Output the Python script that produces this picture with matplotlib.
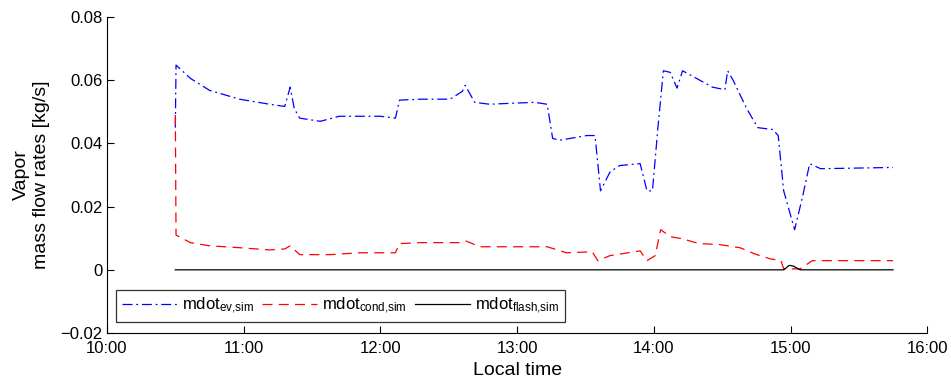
import matplotlib.pyplot as plt
from matplotlib.ticker import FuncFormatter

plt.rcParams["font.family"] = ["Liberation Sans", "DejaVu Sans"]
plt.rcParams["mathtext.fontset"] = "custom"
plt.rcParams["mathtext.rm"] = "Liberation Sans"
plt.rcParams["mathtext.it"] = "Liberation Sans:italic"

# time in decimal hours, values in kg/s
t_ev = [10.50, 10.505, 10.61, 10.75, 10.97, 11.19, 11.30, 11.34, 11.37, 11.41, 11.56,
        11.70, 11.85, 12.00, 12.11, 12.14, 12.29, 12.51, 12.60, 12.62, 12.69, 12.80,
        12.95, 13.13, 13.22, 13.26, 13.31, 13.51, 13.57, 13.61, 13.68, 13.75, 13.90,
        13.95, 13.99, 14.03, 14.07, 14.12, 14.17, 14.21, 14.43, 14.52, 14.54, 14.58,
        14.68, 14.76, 14.87, 14.91, 14.95, 15.03, 15.09, 15.14, 15.22, 15.75]
m_ev = [0.045, 0.0648, 0.0606, 0.0568, 0.0540, 0.0524, 0.0517, 0.0578, 0.0510, 0.0480,
        0.0470, 0.0486, 0.0486, 0.0486, 0.0480, 0.0537, 0.0540, 0.0540, 0.0565, 0.0584,
        0.0530, 0.0524, 0.0527, 0.0530, 0.0524, 0.0416, 0.0410, 0.0425, 0.0425, 0.0250,
        0.0310, 0.0330, 0.0336, 0.0250, 0.0250, 0.0450, 0.0630, 0.0625, 0.0575, 0.0630,
        0.0578, 0.0570, 0.0630, 0.0600, 0.0510, 0.0450, 0.0444, 0.0425, 0.0250, 0.0127,
        0.0235, 0.0336, 0.0320, 0.0324]

t_cond = [10.50, 10.505, 10.61, 10.75, 10.97, 11.19, 11.30, 11.34, 11.41, 11.63,
          11.85, 12.11, 12.14, 12.29, 12.58, 12.62, 12.73, 12.95, 13.22, 13.36, 13.55,
          13.59, 13.68, 13.90, 13.95, 14.01, 14.05, 14.12, 14.21, 14.33, 14.48, 14.63,
          14.74, 14.85, 14.93, 14.95, 15.07, 15.16, 15.75]
m_cond = [0.0490, 0.0110, 0.0086, 0.0076, 0.0070, 0.0063, 0.0066, 0.0076, 0.0048, 0.0048,
          0.0054, 0.0054, 0.0083, 0.0086, 0.0086, 0.0092, 0.0073, 0.0073, 0.0073, 0.0054,
          0.0057, 0.0029, 0.0045, 0.0060, 0.0029, 0.0045, 0.0127, 0.0105, 0.0098, 0.0083,
          0.0080, 0.0070, 0.0050, 0.0035, 0.0029, 0.0003, 0.0003, 0.0029, 0.0029]

t_flash = [10.50, 14.95, 14.99, 15.02, 15.07, 15.75]
m_flash = [0.0, 0.0, 0.0014, 0.0012, 0.0, 0.0]

fig = plt.figure(figsize=(9.51, 3.83), dpi=100)
ax = fig.add_axes([0.1125, 0.1305, 0.8625, 0.825])

ax.plot(t_ev, m_ev, color="blue", lw=0.9, linestyle=(0, (8, 3, 1.5, 3)),
        label="mdot$_{\\mathrm{ev{,}sim}}$")
ax.plot(t_cond, m_cond, color="red", lw=0.9, linestyle=(0, (8, 5)),
        label="mdot$_{\\mathrm{cond{,}sim}}$")
ax.plot(t_flash, m_flash, color="black", lw=0.9,
        label="mdot$_{\\mathrm{flash{,}sim}}$")

ax.set_xlim(10, 16)
ax.set_ylim(-0.02, 0.08)
ax.set_xticks(range(10, 17))
ax.xaxis.set_major_formatter(FuncFormatter(lambda v, p: "%d:00" % v))
ax.set_yticks([-0.02, 0, 0.02, 0.04, 0.06, 0.08])
ax.yaxis.set_major_formatter(FuncFormatter(lambda v, p: "0" if abs(v) < 1e-9 else ("%.2f" % v).replace("-", "\u2212")))
ax.tick_params(direction="in", length=5, labelsize=12, pad=3)
ax.tick_params(axis="x", pad=6)
ax.spines["top"].set_visible(False)
ax.spines["right"].set_visible(False)

ax.set_xlabel("Local time", fontsize=14, labelpad=4)
ax.set_ylabel("Vapor\nmass flow rates [kg/s]", fontsize=14, labelpad=8)

leg = ax.legend(loc="lower left", ncol=3, fontsize=12, frameon=True, fancybox=False,
                edgecolor="black", handlelength=3.3, columnspacing=0.5,
                borderaxespad=0.3, handletextpad=0.3, borderpad=0.35,
                bbox_to_anchor=(0.005, 0.02))
leg.get_frame().set_linewidth(0.9)

plt.savefig("out.png", dpi=100)
